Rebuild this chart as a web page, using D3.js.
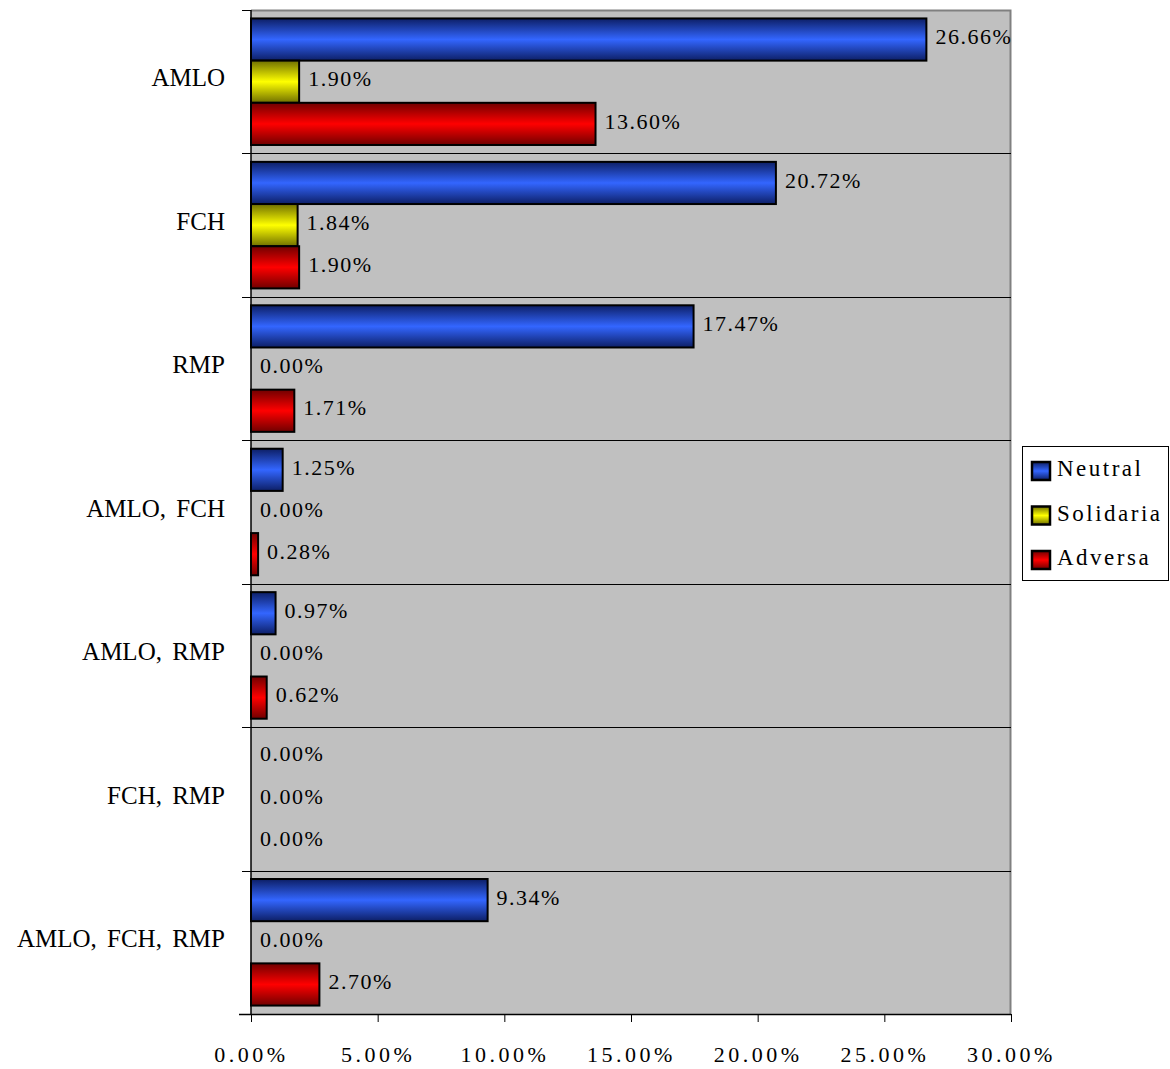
<!DOCTYPE html>
<html>
<head>
<meta charset="utf-8">
<script src="https://cdn.jsdelivr.net/npm/d3@7"></script>
<style>
  html, body { margin: 0; padding: 0; background: #fff; }
  svg text { font-family: "Liberation Serif", "Times New Roman", serif; fill: #000; }
</style>
</head>
<body>
<svg id="chart" width="1170" height="1069"></svg>
<script>
// Candidates / combinations mentioned
const categories = ["AMLO", "FCH", "RMP", "AMLO, FCH", "AMLO, RMP", "FCH, RMP", "AMLO, FCH, RMP"];
const seriesNames = ["Neutral", "Solidaria", "Adversa"];
// Shares (%) per category, one array per series
const neutral   = [26.66, 20.72, 17.47, 1.25, 0.97, 0.00, 9.34];
const solidaria = [1.90, 1.84, 0.00, 0.00, 0.00, 0.00, 0.00];
const adversa   = [13.60, 1.90, 1.71, 0.28, 0.62, 0.00, 2.70];
const xTicks = [0, 5, 10, 15, 20, 25, 30];

const seriesValues = [neutral, solidaria, adversa];
const palette = {
  Neutral:   { mid: "#3366ff", edge: "#0d1f66" },
  Solidaria: { mid: "#ffff00", edge: "#707000" },
  Adversa:   { mid: "#ff0000", edge: "#700000" }
};

const svg = d3.select("#chart");
const plot = { left: 251, right: 1011, top: 10, bottom: 1014 };

const x = d3.scaleLinear().domain([0, 30]).range([plot.left, plot.right]);
const y = d3.scaleBand().domain(categories).range([plot.top, plot.bottom]).paddingInner(0).paddingOuter(0);
const inner = d3.scaleBand().domain(seriesNames).range([0, y.bandwidth()]).paddingOuter(0.2).paddingInner(0);

// vertical gradients: dark rims, bright centre
const defs = svg.append("defs");
seriesNames.forEach(name => {
  const g = defs.append("linearGradient")
    .attr("id", "grad-" + name).attr("x1", 0).attr("y1", 0).attr("x2", 0).attr("y2", 1);
  g.append("stop").attr("offset", "0%").attr("stop-color", palette[name].edge);
  g.append("stop").attr("offset", "50%").attr("stop-color", palette[name].mid);
  g.append("stop").attr("offset", "100%").attr("stop-color", palette[name].edge);
});

// plot background
svg.append("rect")
  .attr("x", plot.left).attr("y", plot.top)
  .attr("width", plot.right - plot.left).attr("height", plot.bottom - plot.top)
  .attr("fill", "#c0c0c0");
// grey frame on top and right
svg.append("path")
  .attr("d", `M${plot.left},${plot.top + 0.5}H${plot.right - 0.5}V${plot.bottom}`)
  .attr("fill", "none").attr("stroke", "#808080").attr("stroke-width", 2);

// category separators (extend left as axis ticks)
svg.append("g").selectAll("line")
  .data(categories.slice(1))
  .join("line")
  .attr("x1", plot.left - 9).attr("x2", plot.right)
  .attr("y1", d => Math.round(y(d)) + 0.5).attr("y2", d => Math.round(y(d)) + 0.5)
  .attr("stroke", "#000").attr("stroke-width", 1);

// bars
const rows = [];
categories.forEach((c, i) => {
  seriesNames.forEach((s, j) => rows.push({ cat: c, series: s, value: seriesValues[j][i] }));
});

svg.append("g").selectAll("rect")
  .data(rows.filter(d => d.value > 0))
  .join("rect")
  .attr("x", x(0))
  .attr("y", d => y(d.cat) + inner(d.series))
  .attr("width", d => x(d.value) - x(0))
  .attr("height", inner.bandwidth())
  .attr("fill", d => `url(#grad-${d.series})`)
  .attr("stroke", "#000").attr("stroke-width", 2);

// value labels
svg.append("g").selectAll("text")
  .data(rows)
  .join("text")
  .attr("x", d => x(d.value) + 9)
  .attr("y", d => y(d.cat) + inner(d.series) + inner.bandwidth() / 2 - 3)
  .attr("dy", "0.35em")
  .attr("font-size", 22)
  .attr("letter-spacing", "1.5px")
  .text(d => d.value.toFixed(2) + "%");

// y axis line + end ticks
svg.append("line")
  .attr("x1", plot.left).attr("x2", plot.left)
  .attr("y1", plot.top).attr("y2", plot.bottom)
  .attr("stroke", "#000").attr("stroke-width", 1.5);
svg.append("g").selectAll("line")
  .data([plot.top, plot.bottom])
  .join("line")
  .attr("x1", plot.left - 9).attr("x2", plot.left)
  .attr("y1", d => d + 0.5).attr("y2", d => d + 0.5)
  .attr("stroke", "#000");

// category labels
svg.append("g").selectAll("text")
  .data(categories)
  .join("text")
  .attr("x", 225)
  .attr("y", d => y(d) + y.bandwidth() / 2 - 4)
  .attr("dy", "0.35em")
  .attr("text-anchor", "end")
  .attr("font-size", 25)
  .attr("word-spacing", "4px")
  .text(d => d);

// x axis
const xAxis = svg.append("g")
  .attr("transform", `translate(0,${plot.bottom})`)
  .call(d3.axisBottom(x).tickValues(xTicks).tickSize(8).tickPadding(24)
    .tickFormat(d => d.toFixed(2) + "%"));
xAxis.select(".domain").attr("stroke", "#000").attr("stroke-width", 1.5)
  .attr("d", `M${plot.left - 12},0.5H${plot.right}`);
xAxis.selectAll(".tick line").attr("stroke", "#000");
xAxis.selectAll(".tick text")
  .attr("font-family", "Liberation Serif, Times New Roman, serif")
  .attr("font-size", 22).attr("letter-spacing", "3.5px").attr("fill", "#000");

// legend
const legend = svg.append("g").attr("transform", "translate(1022,446)");
legend.append("rect")
  .attr("x", 0.5).attr("y", 0.5).attr("width", 146).attr("height", 134)
  .attr("fill", "#fff").attr("stroke", "#000").attr("stroke-width", 1);
const items = legend.selectAll("g.item")
  .data(seriesNames)
  .join("g").attr("class", "item")
  .attr("transform", (d, i) => `translate(0,${25 + i * 44.5})`);
items.append("rect")
  .attr("x", 10).attr("y", -9).attr("width", 18).attr("height", 18)
  .attr("fill", d => `url(#grad-${d})`)
  .attr("stroke", "#000").attr("stroke-width", 2.5);
items.append("text")
  .attr("x", 35).attr("y", -3).attr("dy", "0.35em")
  .attr("font-size", 23).attr("letter-spacing", "2.5px")
  .text(d => d);
</script>
</body>
</html>
